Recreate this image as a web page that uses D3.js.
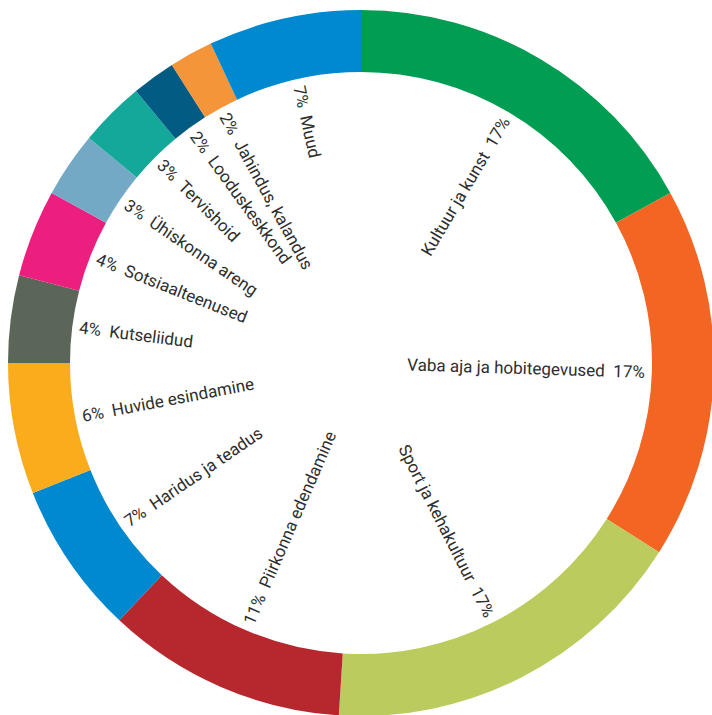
<!DOCTYPE html>
<html>
<head>
<meta charset="utf-8">
<script src="https://cdn.jsdelivr.net/npm/d3@7"></script>
<style>
  html, body { margin: 0; padding: 0; background: #ffffff; }
  svg { display: block; }
  text { white-space: pre; }
</style>
</head>
<body>
<svg id="chart" width="712" height="715"></svg>
<script>
const categories = [
  "Kultuur ja kunst",
  "Vaba aja ja hobitegevused",
  "Sport ja kehakultuur",
  "Piirkonna edendamine",
  "Haridus ja teadus",
  "Huvide esindamine",
  "Kutseliidud",
  "Sotsiaalteenused",
  "Ühiskonna areng",
  "Tervishoid",
  "Looduskeskkond",
  "Jahindus, kalandus",
  "Muud"
];
const values = [17, 17, 17, 11, 7, 6, 4, 4, 3, 3, 2, 2, 7];
const colors = [
  "#009d52", "#f26522", "#bccb5e", "#b7282e", "#0089cf", "#faac1d",
  "#5b6659", "#ec1e7e", "#74a9c6", "#14a89a", "#025b82", "#f5953a", "#0089cf"
];

const data = categories.map((c, i) => ({ name: c, value: values[i], color: colors[i] }));

const cx = 361, cy = 363;
const outerR = 353, innerR = 291, labelR = 284;

const svg = d3.select("#chart");
const g = svg.append("g").attr("transform", `translate(${cx},${cy})`);

const pie = d3.pie().sort(null).value(d => d.value).startAngle(0).endAngle(2 * Math.PI);
const arc = d3.arc().innerRadius(innerR).outerRadius(outerR);
const arcs = pie(data);

g.selectAll("path.slice")
  .data(arcs)
  .join("path")
  .attr("class", "slice")
  .attr("d", arc)
  .attr("fill", d => d.data.color);

const midDeg = d => (d.startAngle + d.endAngle) / 2 * 180 / Math.PI;

g.selectAll("text.label")
  .data(arcs)
  .join("text")
  .attr("class", "label")
  .attr("font-family", "Roboto, 'Open Sans', sans-serif")
  .attr("font-size", 17)
  .attr("fill", "#2e2e2e")
  .attr("dy", "0.35em")
  .attr("transform", d => {
    const deg = midDeg(d);
    if (deg < 180) return `rotate(${deg - 90}) translate(${labelR},0)`;
    return `rotate(${deg - 90}) translate(${labelR},0) rotate(180)`;
  })
  .attr("text-anchor", d => midDeg(d) < 180 ? "end" : "start")
  .text(d => midDeg(d) < 180
    ? `${d.data.name}  ${d.data.value}%`
    : `${d.data.value}%  ${d.data.name}`);
</script>
</body>
</html>
